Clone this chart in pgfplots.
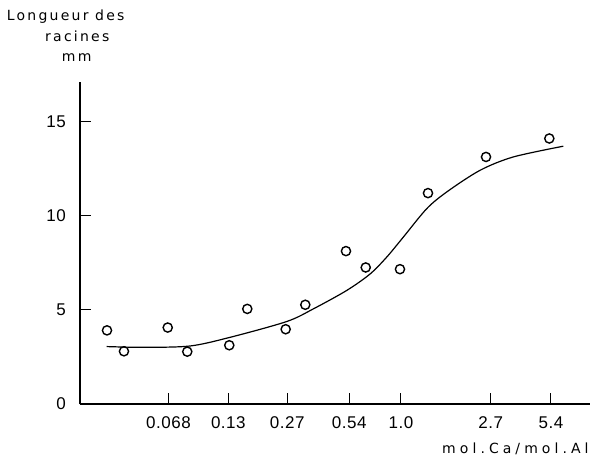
\documentclass[border=0pt]{standalone}
\usepackage{fontspec}
\setmainfont{Liberation Sans}
\newfontfamily\lblfont{DejaVu Sans}[LetterSpace=16]
\newfontfamily\lblfontw{DejaVu Sans}[LetterSpace=29]
\newfontfamily\numfont{Liberation Sans}[LetterSpace=3]
\usepackage{pgfplots}
\pgfplotsset{compat=1.18}

% measured points: x is log2-like position of the Ca/Al ratio (1.0 at 0)
\pgfplotstableread{
x      y
-4.900 3.91
-4.617 2.80
-3.888 4.06
-3.562 2.78
-2.862 3.12
-2.562 5.05
-1.922 3.97
-1.595 5.27
-0.917 8.12
-0.588 7.25
-0.017 7.16
 0.450 11.20
 1.417 13.12
 2.472 14.10
}\points

% fitted curve
\pgfplotstableread{
x      y
-4.905 3.05
-4.295 3.01
-3.517 3.08
-2.850 3.54
-1.905 4.38
-1.462 5.05
-0.905 6.03
-0.517 6.90
-0.238 7.80
 0.038 8.86
 0.428 10.37
 0.762 11.26
 1.317 12.41
 1.872 13.12
 2.705 13.69
}\curve

\begin{document}
\begin{tikzpicture}
\useasboundingbox (-80pt,-52pt) rectangle (510pt,404pt);
\begin{axis}[
    scale only axis,
    width=510pt, height=322pt,
    xmin=-5.35, xmax=3.15,
    ymin=0, ymax=17.1,
    axis lines*=left,
    axis line style={line width=1.4pt},
    xtick={-3.876,-2.878,-1.895,-0.862,0,1.495,2.5},
    xticklabels={0.068,0.13,0.27,0.54,1.0,2.7,5.4},
    ytick={0,5,10,15},
    tick align=inside,
    major tick length=11pt,
    tick style={line width=1pt, black},
    tick label style={font=\numfont\fontsize{17}{20}\selectfont},
    xticklabel style={anchor=north, inner sep=0pt, yshift=-12.5pt},
    yticklabel style={anchor=east, inner sep=0pt, xshift=-14pt},
    /pgf/number format/assume math mode=true,
    clip=false,
  ]
  \addplot[black, line width=1.2pt, smooth, no marks] table[x=x, y=y] {\curve};
  \addplot[only marks, mark=o, mark size=4.6pt, mark options={line width=1.4pt, black}] table[x=x, y=y] {\points};
  \node[anchor=base west, inner sep=0pt, font=\lblfont\fontsize{14}{16}\selectfont] at (axis cs:-6.572,20.39) {Longueur des};
  \node[anchor=base west, inner sep=0pt, font=\lblfont\fontsize{14}{16}\selectfont] at (axis cs:-5.933,19.23) {racines};
  \node[anchor=base west, inner sep=0pt, font=\lblfont\fontsize{14}{16}\selectfont] at (axis cs:-5.655,18.21) {mm};
  \node[anchor=base east, inner sep=0pt, font=\lblfontw\fontsize{14}{16}\selectfont] at (axis cs:3.13,-2.64) {mol.Ca/mol.Al};
\end{axis}
\end{tikzpicture}
\end{document}
